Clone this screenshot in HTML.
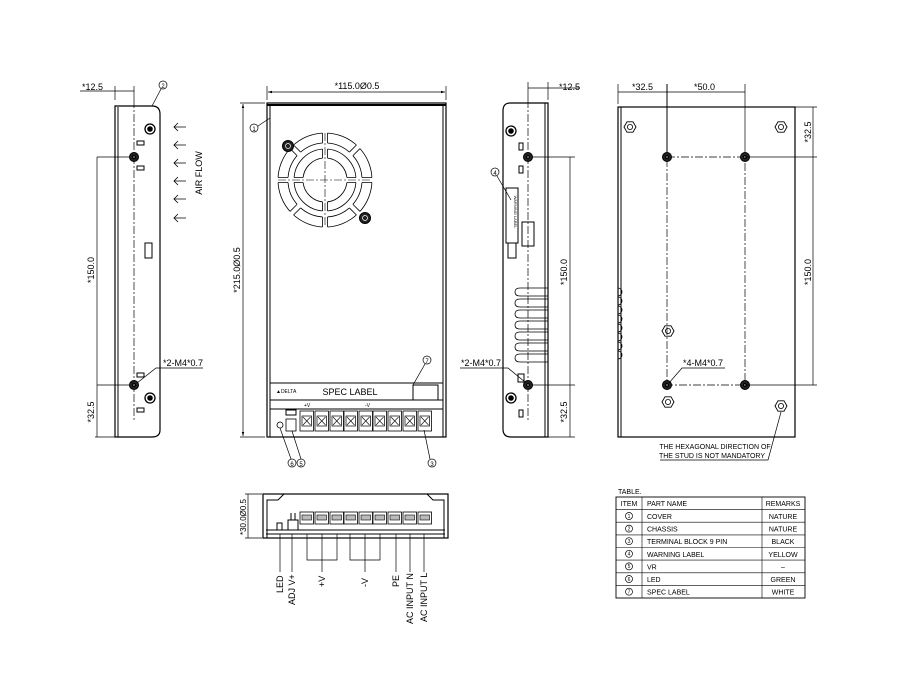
<!DOCTYPE html>
<html><head><meta charset="utf-8"><style>
html,body{margin:0;padding:0;background:#fff;}
svg{display:block;font-family:"Liberation Sans",Arial,sans-serif;}
</style></head><body>
<svg width="914" height="695" viewBox="0 0 914 695" xmlns="http://www.w3.org/2000/svg">
<defs>
<marker id="a" viewBox="0 0 10 10" refX="10" refY="5" markerWidth="6" markerHeight="6" orient="auto-start-reverse"><path d="M0,2 L10,5 L0,8z" fill="#000"/></marker>
<g id="hole"><circle r="4.5" fill="#222"/><circle r="1.5" fill="#777"/></g>
<g id="scr"><circle r="5" fill="none" stroke="#000" stroke-width="1.3"/><circle r="2.3" fill="#000"/></g>
<g id="hex"><polygon points="-6,0 -3,-5.2 3,-5.2 6,0 3,5.2 -3,5.2" fill="none" stroke="#000" stroke-width="0.9"/><circle r="2.6" fill="none" stroke="#000" stroke-width="0.8"/></g>
<g id="tb"><rect x="0" y="0" width="13.5" height="20" fill="#fff" stroke="#000" stroke-width="0.8"/><rect x="2" y="5" width="9.5" height="10" fill="none" stroke="#000" stroke-width="0.7"/><path d="M3,6 L10.5,14 M10.5,6 L3,14" stroke="#000" stroke-width="0.6"/></g>
<g id="btb"><rect x="0" y="0" width="13.5" height="12" fill="#fff" stroke="#000" stroke-width="0.8"/><rect x="2" y="3" width="9.5" height="5" fill="#bbb" stroke="#000" stroke-width="0.6"/></g>
<g id="gap"><rect x="-2.5" y="-48" width="5" height="12" fill="#fff" stroke="none"/><path d="M-2.5,-47 L-2.5,-37 M2.5,-47 L2.5,-37" stroke="#000" stroke-width="0.8"/></g>
<g id="gap2"><rect x="-2.5" y="-32" width="5" height="11" fill="#fff" stroke="none"/><path d="M-2.5,-31 L-2.5,-22 M2.5,-31 L2.5,-22" stroke="#000" stroke-width="0.8"/></g>
</defs>
<g fill="none" stroke="#000" stroke-width="1" font-size="9">

<!-- LEFT SIDE VIEW -->
<path d="M115,106 L152,106 Q160,106 160,114 L160,430 Q160,437 152,437 L115,437 Z" stroke-width="1.2"/>
<line x1="118" y1="107" x2="118" y2="437"/>
<line x1="134" y1="100" x2="134" y2="420" stroke-dasharray="8,2,2,2" stroke-width="0.7"/>
<line x1="115" y1="100" x2="115" y2="86" stroke-width="0.7"/><line x1="134" y1="100" x2="134" y2="86" stroke-width="0.7"/>
<line x1="80" y1="91" x2="134" y2="91" stroke-width="0.7"/>
<text x="82" y="90" stroke="none" fill="#000">*12.5</text>
<use href="#hole" x="134" y="157"/><use href="#hole" x="134" y="385"/>
<use href="#scr" x="150" y="129"/><use href="#scr" x="150" y="398"/>
<rect x="137" y="141" width="7" height="4"/><rect x="137" y="166" width="7" height="4"/>
<rect x="137" y="373" width="7" height="4"/><rect x="137" y="408" width="7" height="4"/>
<rect x="145" y="243" width="7" height="15"/>
<line x1="97" y1="157" x2="130" y2="157" stroke-width="0.7"/><line x1="97" y1="385" x2="130" y2="385" stroke-width="0.7"/>
<line x1="97" y1="157" x2="97" y2="437" stroke-width="0.7"/><line x1="95" y1="437" x2="115" y2="437" stroke-width="0.7"/>
<text transform="translate(94,270) rotate(-90)" text-anchor="middle" stroke="none" fill="#000">*150.0</text>
<text transform="translate(94,412) rotate(-90)" text-anchor="middle" stroke="none" fill="#000">*32.5</text>
<path d="M137,383 L156,368 L203,368" stroke-width="0.7"/>
<text x="163" y="366" stroke="none" fill="#000">*2-M4*0.7</text>
<circle cx="163" cy="85" r="4" stroke-width="0.7"/><text x="163" y="88" text-anchor="middle" font-size="6" stroke="none" fill="#000">2</text>
<line x1="161" y1="89" x2="152" y2="106" stroke-width="0.7"/>
<g stroke-width="0.8">
<path d="M174,127 L186,127 M178,123 L174,127 L178,131"/><path d="M174,145 L186,145 M178,141 L174,145 L178,149"/>
<path d="M174,163 L186,163 M178,159 L174,163 L178,167"/><path d="M174,181 L186,181 M178,177 L174,181 L178,185"/>
<path d="M174,199 L186,199 M178,195 L174,199 L178,203"/><path d="M174,218 L186,218 M178,214 L174,218 L178,222"/>
</g>
<text transform="translate(202,173) rotate(-90)" text-anchor="middle" stroke="none" fill="#000">AIR FLOW</text>

<!-- FRONT VIEW -->
<rect x="267" y="103" width="179" height="334" stroke-width="1.2"/>
<line x1="267" y1="105" x2="446" y2="105" stroke-width="2"/>
<line x1="270" y1="105" x2="270" y2="437"/><line x1="443" y1="105" x2="443" y2="437"/>
<line x1="267" y1="100" x2="267" y2="86" stroke-width="0.7"/><line x1="446" y1="100" x2="446" y2="86" stroke-width="0.7"/>
<line x1="268" y1="92" x2="445" y2="92" stroke-width="0.7" marker-start="url(#a)" marker-end="url(#a)"/>
<text x="357" y="89" text-anchor="middle" stroke="none" fill="#000">*115.0Ø0.5</text>
<line x1="243" y1="104" x2="243" y2="436" stroke-width="0.7" marker-start="url(#a)" marker-end="url(#a)"/>
<line x1="240" y1="103" x2="265" y2="103" stroke-width="0.7"/><line x1="240" y1="437" x2="265" y2="437" stroke-width="0.7"/>
<text transform="translate(240,270) rotate(-90)" text-anchor="middle" stroke="none" fill="#000">*215.0Ø0.5</text>
<circle cx="254" cy="128" r="4" stroke-width="0.7"/><text x="254" y="131" text-anchor="middle" font-size="6" stroke="none" fill="#000">1</text>
<line x1="258" y1="126" x2="270" y2="118" stroke-width="0.7"/>
<!-- fan -->
<g stroke-width="0.8">
<circle cx="325" cy="180" r="47"/><circle cx="325" cy="180" r="37"/><circle cx="325" cy="180" r="31"/><circle cx="325" cy="180" r="22"/>
<g transform="translate(325,180)">
<use href="#gap" transform="rotate(0)"/><use href="#gap" transform="rotate(45)"/><use href="#gap" transform="rotate(90)"/><use href="#gap" transform="rotate(135)"/>
<use href="#gap" transform="rotate(180)"/><use href="#gap" transform="rotate(225)"/><use href="#gap" transform="rotate(270)"/><use href="#gap" transform="rotate(315)"/>
<use href="#gap2" transform="rotate(0)"/><use href="#gap2" transform="rotate(90)"/><use href="#gap2" transform="rotate(180)"/><use href="#gap2" transform="rotate(270)"/>
</g>
<path d="M278,180 L372,180 M325,133 L325,227" stroke-dasharray="8,2,2,2" stroke-width="0.6"/>
</g>
<circle cx="288" cy="146" r="5.5" fill="#222"/><circle cx="365" cy="218" r="5.5" fill="#222"/>
<circle cx="288" cy="146" r="2.5" stroke="#fff" stroke-width="0.7"/><circle cx="365" cy="218" r="2.5" stroke="#fff" stroke-width="0.7"/>
<!-- spec label -->
<line x1="270" y1="383" x2="443" y2="383"/>
<line x1="270" y1="400" x2="443" y2="400"/>
<rect x="413" y="385" width="25" height="15"/>
<text x="350" y="395" text-anchor="middle" stroke="none" fill="#000">SPEC LABEL</text>
<text x="276" y="393" font-size="5" stroke="none" fill="#000">▲DELTA</text>
<circle cx="427" cy="360" r="4" stroke-width="0.7"/><text x="427" y="363" text-anchor="middle" font-size="6" stroke="none" fill="#000">7</text>
<line x1="425" y1="364" x2="413" y2="385" stroke-width="0.7"/>
<path d="M270,409 L443,409"/>
<rect x="286" y="410" width="10" height="5"/>
<circle cx="280" cy="425" r="3" stroke-width="0.8"/>
<rect x="286" y="419" width="10" height="12" stroke-width="0.8"/>
<use href="#tb" x="300" y="411"/><use href="#tb" x="315" y="411"/><use href="#tb" x="330" y="411"/>
<use href="#tb" x="344" y="411"/><use href="#tb" x="359" y="411"/><use href="#tb" x="373" y="411"/>
<use href="#tb" x="388" y="411"/><use href="#tb" x="403" y="411"/><use href="#tb" x="418" y="411"/>
<text x="304" y="407" font-size="5" stroke="none" fill="#000">+V</text><text x="365" y="407" font-size="5" stroke="none" fill="#000">-V</text>
<circle cx="292" cy="463" r="4" stroke-width="0.7"/><text x="292" y="466" text-anchor="middle" font-size="6" stroke="none" fill="#000">6</text>
<circle cx="301" cy="463" r="4" stroke-width="0.7"/><text x="301" y="466" text-anchor="middle" font-size="6" stroke="none" fill="#000">5</text>
<line x1="291" y1="459" x2="280" y2="428" stroke-width="0.7"/><line x1="301" y1="459" x2="292" y2="431" stroke-width="0.7"/>
<circle cx="432" cy="463" r="4" stroke-width="0.7"/><text x="432" y="466" text-anchor="middle" font-size="6" stroke="none" fill="#000">3</text>
<line x1="430" y1="459" x2="424" y2="430" stroke-width="0.7"/>

<!-- RIGHT SIDE VIEW -->
<path d="M548,103 L510,103 Q503,103 503,111 L503,429 Q503,437 511,437 L548,437 Z" stroke-width="1.2"/>
<line x1="545" y1="103" x2="545" y2="437"/>
<line x1="528" y1="100" x2="528" y2="420" stroke-dasharray="8,2,2,2" stroke-width="0.7"/>
<line x1="528" y1="100" x2="528" y2="82" stroke-width="0.7"/><line x1="548" y1="100" x2="548" y2="82" stroke-width="0.7"/>
<line x1="528" y1="88" x2="580" y2="88" stroke-width="0.7"/>
<text x="559" y="90" stroke="none" fill="#000">*12.5</text>
<use href="#hole" x="528" y="157"/><use href="#hole" x="528" y="385"/>
<use href="#scr" x="511" y="131"/><use href="#scr" x="511" y="398"/>
<rect x="519" y="143" width="4" height="7"/><rect x="519" y="166" width="4" height="7"/>
<rect x="519" y="410" width="4" height="7"/><rect x="518" y="374" width="6" height="8"/>
<rect x="506" y="188" width="12" height="55"/><rect x="508" y="243" width="8" height="15"/><rect x="522" y="222" width="12" height="24"/>
<text transform="translate(514,212) rotate(90)" font-size="4" text-anchor="middle" stroke="none" fill="#000">WARNING LABEL</text>
<circle cx="495" cy="172" r="4" stroke-width="0.7"/><text x="495" y="175" text-anchor="middle" font-size="6" stroke="none" fill="#000">4</text>
<line x1="497" y1="176" x2="511" y2="200" stroke-width="0.7"/>
<g stroke-width="0.8">
<path d="M520,288 Q515,288 515,292 Q515,296 520,296 L548,296 M520,288 L548,288"/>
<path d="M520,299 Q515,299 515,303 Q515,307 520,307 L548,307 M520,299 L548,299"/>
<path d="M520,310 Q515,310 515,314 Q515,318 520,318 L548,318 M520,310 L548,310"/>
<path d="M520,321 Q515,321 515,325 Q515,329 520,329 L548,329 M520,321 L548,321"/>
<path d="M520,332 Q515,332 515,336 Q515,340 520,340 L548,340 M520,332 L548,332"/>
<path d="M520,343 Q515,343 515,347 Q515,351 520,351 L548,351 M520,343 L548,343"/>
<path d="M520,354 Q515,354 515,358 Q515,362 520,362 L548,362 M520,354 L548,354"/>
</g>
<line x1="532" y1="157" x2="575" y2="157" stroke-width="0.7"/><line x1="532" y1="385" x2="575" y2="385" stroke-width="0.7"/>
<line x1="570" y1="157" x2="570" y2="437" stroke-width="0.7"/><line x1="548" y1="437" x2="575" y2="437" stroke-width="0.7"/>
<text transform="translate(567,272) rotate(-90)" text-anchor="middle" stroke="none" fill="#000">*150.0</text>
<text transform="translate(567,412) rotate(-90)" text-anchor="middle" stroke="none" fill="#000">*32.5</text>
<path d="M525,382 L508,368 L460,368" stroke-width="0.7"/>
<text x="461" y="366" stroke="none" fill="#000">*2-M4*0.7</text>

<!-- BACK VIEW -->
<rect x="618" y="107" width="177" height="330" stroke-width="1.2"/>
<line x1="621" y1="107" x2="621" y2="437"/>
<line x1="618" y1="104" x2="618" y2="84" stroke-width="0.7"/>
<line x1="667" y1="157" x2="667" y2="84"/><line x1="745" y1="157" x2="745" y2="84" stroke-width="0.7"/>
<line x1="618" y1="92" x2="745" y2="92" stroke-width="0.7"/>
<text x="632" y="90" stroke="none" fill="#000">*32.5</text>
<text x="694" y="90" stroke="none" fill="#000">*50.0</text>
<path d="M667,157 L745,157 L745,385 L667,385 Z" stroke-dasharray="8,2,2,2" stroke-width="0.7"/>
<use href="#hole" x="667" y="157"/><use href="#hole" x="745" y="157"/><use href="#hole" x="667" y="385"/><use href="#hole" x="745" y="385"/>
<use href="#hex" x="630" y="127"/><use href="#hex" x="781" y="127"/><use href="#hex" x="668" y="331"/><use href="#hex" x="668" y="402"/><use href="#hex" x="781" y="406"/>
<line x1="795" y1="107" x2="817" y2="107" stroke-width="0.7"/>
<line x1="745" y1="157" x2="817" y2="157" stroke-width="0.7"/><line x1="745" y1="385" x2="817" y2="385" stroke-width="0.7"/>
<line x1="813" y1="107" x2="813" y2="385" stroke-width="0.7"/>
<text transform="translate(811,132) rotate(-90)" text-anchor="middle" stroke="none" fill="#000">*32.5</text>
<text transform="translate(811,272) rotate(-90)" text-anchor="middle" stroke="none" fill="#000">*150.0</text>
<path d="M669,383 L682,368 L725,368" stroke-width="0.7"/>
<text x="683" y="366" stroke="none" fill="#000">*4-M4*0.7</text>
<g stroke-width="0.8">
<path d="M618,288 a3,3 0 0 1 0,8 M618,297 a3,3 0 0 1 0,8 M618,306 a3,3 0 0 1 0,8 M618,315 a3,3 0 0 1 0,8 M618,324 a3,3 0 0 1 0,8 M618,333 a3,3 0 0 1 0,8 M618,342 a3,3 0 0 1 0,8 M618,351 a3,3 0 0 1 0,8"/>
</g>
<path d="M781,412 L768,460 L660,460" stroke-width="0.7"/>
<text x="715" y="449" text-anchor="middle" font-size="7" stroke="none" fill="#000">THE HEXAGONAL DIRECTION OF</text>
<text x="712" y="458" text-anchor="middle" font-size="7" stroke="none" fill="#000">THE STUD IS NOT MANDATORY</text>

<!-- BOTTOM VIEW -->
<rect x="263" y="494" width="185" height="44" stroke-width="1.2"/>
<path d="M267,538 L267,500 L278,500 L284,494 M444,538 L444,500 L433,500 L427,494"/>
<line x1="266" y1="530" x2="445" y2="530"/>
<line x1="266" y1="534" x2="445" y2="534"/>
<use href="#btb" x="300" y="512"/><use href="#btb" x="315" y="512"/><use href="#btb" x="330" y="512"/>
<use href="#btb" x="344" y="512"/><use href="#btb" x="359" y="512"/><use href="#btb" x="373" y="512"/>
<use href="#btb" x="388" y="512"/><use href="#btb" x="403" y="512"/><use href="#btb" x="418" y="512"/>
<rect x="277" y="523" width="5" height="7"/><path d="M288,530 L288,520 L298,520 L298,530 M291,520 L291,513 M295,520 L295,513"/>
<line x1="248" y1="494" x2="248" y2="538" stroke-width="0.7"/>
<line x1="245" y1="494" x2="262" y2="494" stroke-width="0.7"/><line x1="245" y1="538" x2="262" y2="538" stroke-width="0.7"/>
<text transform="translate(246,517) rotate(-90)" text-anchor="middle" font-size="8" stroke="none" fill="#000">*30.0Ø0.5</text>
<g stroke-width="0.7">
<line x1="280" y1="534" x2="280" y2="572"/><line x1="292" y1="534" x2="292" y2="572"/>
<path d="M307,534 L307,560 L337,560 L337,534 M322,534 L322,572"/>
<path d="M350,534 L350,560 L380,560 L380,534 M365,534 L365,572"/>
<line x1="396" y1="534" x2="396" y2="572"/><line x1="410" y1="534" x2="410" y2="572"/><line x1="424" y1="534" x2="424" y2="572"/>
</g>
<g stroke="none" fill="#000" font-size="9">
<text transform="translate(283,593) rotate(-90)">LED</text>
<text transform="translate(295,605) rotate(-90)">ADJ V+</text>
<text transform="translate(325,587) rotate(-90)">+V</text>
<text transform="translate(368,587) rotate(-90)">-V</text>
<text transform="translate(399,587) rotate(-90)">PE</text>
<text transform="translate(413,624) rotate(-90)">AC INPUT N</text>
<text transform="translate(427,622) rotate(-90)">AC INPUT L</text>
</g>

<!-- TABLE -->
<text x="618" y="494" font-size="7" stroke="none" fill="#000">TABLE.</text>
<rect x="616" y="497" width="189" height="101" stroke-width="0.9"/>
<g stroke-width="0.6">
<line x1="642" y1="497" x2="642" y2="598"/><line x1="762" y1="497" x2="762" y2="598"/>
<line x1="616" y1="509.6" x2="805" y2="509.6"/><line x1="616" y1="522.2" x2="805" y2="522.2"/>
<line x1="616" y1="534.9" x2="805" y2="534.9"/><line x1="616" y1="547.5" x2="805" y2="547.5"/>
<line x1="616" y1="560.1" x2="805" y2="560.1"/><line x1="616" y1="572.8" x2="805" y2="572.8"/>
<line x1="616" y1="585.4" x2="805" y2="585.4"/>
</g>
<g stroke="none" fill="#000" font-size="7">
<text x="629" y="506" text-anchor="middle">ITEM</text><text x="647" y="506">PART NAME</text><text x="783" y="506" text-anchor="middle">REMARKS</text>
<text x="647" y="519">COVER</text><text x="783" y="519" text-anchor="middle">NATURE</text>
<text x="647" y="531.5">CHASSIS</text><text x="783" y="531.5" text-anchor="middle">NATURE</text>
<text x="647" y="544">TERMINAL BLOCK 9 PIN</text><text x="783" y="544" text-anchor="middle">BLACK</text>
<text x="647" y="557">WARNING LABEL</text><text x="783" y="557" text-anchor="middle">YELLOW</text>
<text x="647" y="569.5">VR</text><text x="783" y="569.5" text-anchor="middle">–</text>
<text x="647" y="582">LED</text><text x="783" y="582" text-anchor="middle">GREEN</text>
<text x="647" y="594.5">SPEC LABEL</text><text x="783" y="594.5" text-anchor="middle">WHITE</text>
</g>
<g stroke-width="0.7">
<circle cx="629" cy="516" r="3.5"/><circle cx="629" cy="528.6" r="3.5"/><circle cx="629" cy="541.2" r="3.5"/>
<circle cx="629" cy="553.8" r="3.5"/><circle cx="629" cy="566.4" r="3.5"/><circle cx="629" cy="579" r="3.5"/><circle cx="629" cy="591.7" r="3.5"/>
</g>
<g stroke="none" fill="#000" font-size="5" text-anchor="middle">
<text x="629" y="517.8">1</text><text x="629" y="530.4">2</text><text x="629" y="543">3</text>
<text x="629" y="555.6">4</text><text x="629" y="568.2">5</text><text x="629" y="580.8">6</text><text x="629" y="593.5">7</text>
</g>
</g>
</svg>
</body></html>
